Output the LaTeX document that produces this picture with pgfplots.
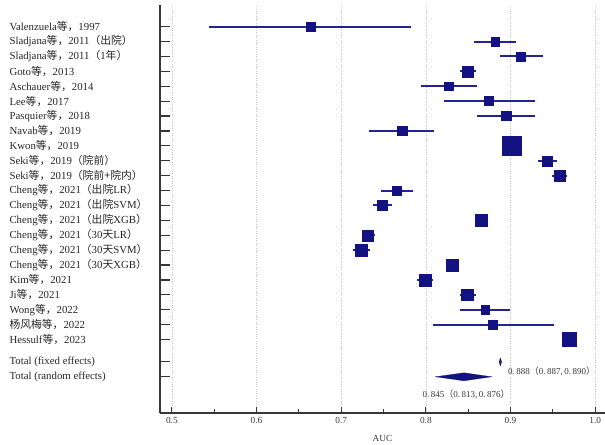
\documentclass[border=0pt]{standalone}
\usepackage{pgfplots}
\pgfplotsset{compat=1.18}
\usepackage{pgfplotstable}
\usepackage{fontspec}
\setmainfont{Liberation Serif}
\newfontfamily\cjkfont{Noto Sans CJK SC}
\newcommand\zh[1]{{\cjkfont #1}}
\definecolor{navy}{RGB}{18,18,128}
\definecolor{ciline}{RGB}{35,35,145}
\definecolor{axgray}{RGB}{55,55,55}
\definecolor{gridgray}{RGB}{200,200,200}

\pgfplotstableread{
y x lo hi w
-1 0.664 0.544 0.783 8.5
-2 0.882 0.857 0.907 8.7
-3 0.912 0.888 0.938 9
-4 0.849 0.840 0.859 11
-5 0.827 0.794 0.860 8.7
-6 0.874 0.821 0.929 9
-7 0.895 0.860 0.929 9.3
-8 0.772 0.733 0.810 9.3
-9 0.901 0.896 0.906 19
-10 0.943 0.932 0.955 10
-11 0.958 0.949 0.967 11
-12 0.766 0.747 0.785 9
-13 0.749 0.737 0.760 10
-14 0.865 0.861 0.869 11.7
-15 0.731 0.724 0.740 11
-16 0.724 0.714 0.734 11.7
-17 0.831 0.827 0.835 11.7
-18 0.799 0.790 0.809 11.7
-19 0.849 0.840 0.859 11.7
-20 0.870 0.840 0.899 8.3
-21 0.879 0.809 0.951 9
-22 0.969 0.965 0.973 14
}\studies

\begin{document}
\begin{tikzpicture}
\useasboundingbox (0,0) rectangle (605bp,445bp);
\begin{axis}[
  at={(160bp,32bp)}, anchor=south west,
  scale only axis, width=445bp, height=408bp,
  xmin=0.486, xmax=1.0116,
  ymin=-26.93, ymax=0.45,
  axis lines*=left,
  axis line style={axgray, line width=1.4bp, -},
  tick align=inside,
  xtick={0.5,0.6,0.7,0.8,0.9,1.0},
  minor xtick={0.55,0.65,0.75,0.85,0.95},
  xmajorgrids,
  major grid style={gridgray, dotted, line width=0.7bp},
  major tick length=10bp,
  minor tick length=4bp,
  xtick style={axgray, line width=1.2bp, /pgfplots/major tick length=6bp},
  ytick style={axgray, line width=1.2bp},
  xticklabel style={font=\fontsize{9.3bp}{10bp}\selectfont, text=axgray,
    /pgf/number format/fixed, /pgf/number format/precision=1,
    /pgf/number format/fixed zerofill, yshift=-1bp},
  /pgf/number format/assume math mode=true,
  ytick={-1,-2,-3,-4,-5,-6,-7,-8,-9,-10,-11,-12,-13,-14,-15,-16,-17,-18,-19,-20,-21,-22,-23.5,-24.5},
  yticklabels={
    Valenzuela\zh{等，}1997,
    Sladjana\zh{等，}2011\zh{（出院）},
    Sladjana\zh{等，}2011\zh{（}1\zh{年）},
    Goto\zh{等，}2013,
    Aschauer\zh{等，}2014,
    Lee\zh{等，}2017,
    Pasquier\zh{等，}2018,
    Navab\zh{等，}2019,
    Kwon\zh{等，}2019,
    Seki\zh{等，}2019\zh{（院前）},
    Seki\zh{等，}2019\zh{（院前+院内）},
    Cheng\zh{等，}2021\zh{（出院}LR\zh{）},
    Cheng\zh{等，}2021\zh{（出院}SVM\zh{）},
    Cheng\zh{等，}2021\zh{（出院}XGB\zh{）},
    Cheng\zh{等，}2021\zh{（}30\zh{天}LR\zh{）},
    Cheng\zh{等，}2021\zh{（}30\zh{天}SVM\zh{）},
    Cheng\zh{等，}2021\zh{（}30\zh{天}XGB\zh{）},
    Kim\zh{等，}2021,
    Ji\zh{等，}2021,
    Wong\zh{等，}2022,
    \zh{杨风梅等，}2022,
    Hessulf\zh{等，}2023,
    Total (fixed effects),
    Total (random effects)},
  yticklabel style={anchor=west, xshift=-154bp, font=\fontsize{10.8bp}{12bp}\selectfont, text=black!85},
  xlabel={AUC},
  every axis x label/.style={at={(rel axis cs:0.5,0)}, anchor=center, yshift=-25bp,
    font=\fontsize{9.3bp}{10bp}\selectfont, text=axgray},
  clip=false,
]
% confidence intervals (lower/upper limits per study)
\addplot[ciline, line width=2bp, unbounded coords=jump, forget plot] coordinates {
  (0.544,-1) (0.783,-1) (nan,nan)
  (0.857,-2) (0.907,-2) (nan,nan)
  (0.888,-3) (0.938,-3) (nan,nan)
  (0.840,-4) (0.859,-4) (nan,nan)
  (0.794,-5) (0.860,-5) (nan,nan)
  (0.821,-6) (0.929,-6) (nan,nan)
  (0.860,-7) (0.929,-7) (nan,nan)
  (0.733,-8) (0.810,-8) (nan,nan)
  (0.932,-10) (0.955,-10) (nan,nan)
  (0.949,-11) (0.967,-11) (nan,nan)
  (0.747,-12) (0.785,-12) (nan,nan)
  (0.737,-13) (0.760,-13) (nan,nan)
  (0.724,-15) (0.740,-15) (nan,nan)
  (0.714,-16) (0.734,-16) (nan,nan)
  (0.790,-18) (0.809,-18) (nan,nan)
  (0.840,-19) (0.859,-19) (nan,nan)
  (0.840,-20) (0.899,-20) (nan,nan)
  (0.809,-21) (0.951,-21)
};
% study squares
\addplot[only marks, mark=square*,
  visualization depends on={\thisrow{w}/2 \as \msz},
  scatter, point meta=y,
  scatter/use mapped color={draw=navy, fill=navy},
  scatter/@pre marker code/.append style={/tikz/mark size=\msz bp, /tikz/line width=0.2bp}]
  table[x=x, y=y] {\studies};
% fixed effects diamond
\addplot[fill=navy, draw=navy, line width=0.2bp] coordinates
  {(0.8865,-23.5) (0.888,-23.23) (0.8895,-23.5) (0.888,-23.77) (0.8865,-23.5)};
% random effects diamond
\addplot[fill=navy, draw=navy, line width=0.2bp] coordinates
  {(0.811,-24.5) (0.845,-24.23) (0.878,-24.5) (0.845,-24.77) (0.811,-24.5)};
\node[anchor=west, inner sep=0pt, font=\fontsize{9bp}{10bp}\selectfont, text=axgray]
  at (axis cs:0.897,-24.15) {0.\,888\zh{（}0.\,887,\,0.\,890\zh{）}};
\node[anchor=west, inner sep=0pt, font=\fontsize{9bp}{10bp}\selectfont, text=axgray]
  at (axis cs:0.796,-25.65) {0.\,845\zh{（}0.\,813,\,0.\,876\zh{）}};
\end{axis}
\end{tikzpicture}
\end{document}
